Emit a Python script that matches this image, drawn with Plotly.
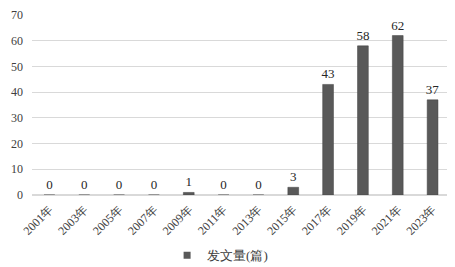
import plotly.graph_objects as go

years = ["2001年", "2003年", "2005年", "2007年", "2009年", "2011年",
         "2013年", "2015年", "2017年", "2019年", "2021年", "2023年"]
counts = [0, 0, 0, 0, 1, 0, 0, 3, 43, 58, 62, 37]
series_name = "发文量(篇)"
y_ticks = [0, 10, 20, 30, 40, 50, 60, 70]

font_family = "Liberation Serif"
bar_color = "#595959"

fig = go.Figure()
fig.add_trace(go.Bar(
    x=years, y=counts, name=series_name,
    marker=dict(color=bar_color, line=dict(color="#404040", width=0.5)),
    text=[str(c) for c in counts], textposition="outside",
    constraintext="none",
    textfont=dict(size=13, color="#262626", family=font_family),
    cliponaxis=False,
    showlegend=False,
))
# legend entry with a small square symbol
fig.add_trace(go.Scatter(
    x=[None], y=[None], mode="markers", name=series_name,
    marker=dict(symbol="square", size=7, color=bar_color),
    showlegend=True,
))
# page body has an 8px margin, so the figure is offset by 8px
fig.update_layout(
    width=447, height=259,
    margin=dict(l=24, r=5, t=7, b=72, autoexpand=False),
    paper_bgcolor="white", plot_bgcolor="white",
    font=dict(family=font_family, size=12, color="#404040"),
    bargap=0.69,
    showlegend=True,
    legend=dict(orientation="h", x=0.45, xanchor="center", y=-0.335, yanchor="middle",
                font=dict(size=13, color="#404040", family=font_family),
                itemwidth=30, tracegroupgap=0),
    xaxis=dict(tickangle=-45, showgrid=False, showline=False, ticks="",
               automargin=False, ticklabelstandoff=4,
               tickfont=dict(size=12, color="#404040", family=font_family)),
    yaxis=dict(range=[0, 70], tickvals=y_ticks, showgrid=True, gridcolor="#d9d9d9",
               gridwidth=1, zeroline=True, zerolinecolor="#d9d9d9", ticks="",
               automargin=False, ticklabelstandoff=8, ticklabeloverflow="allow",
               tickfont=dict(size=12, color="#404040", family=font_family)),
)
fig.write_html("out.html")
